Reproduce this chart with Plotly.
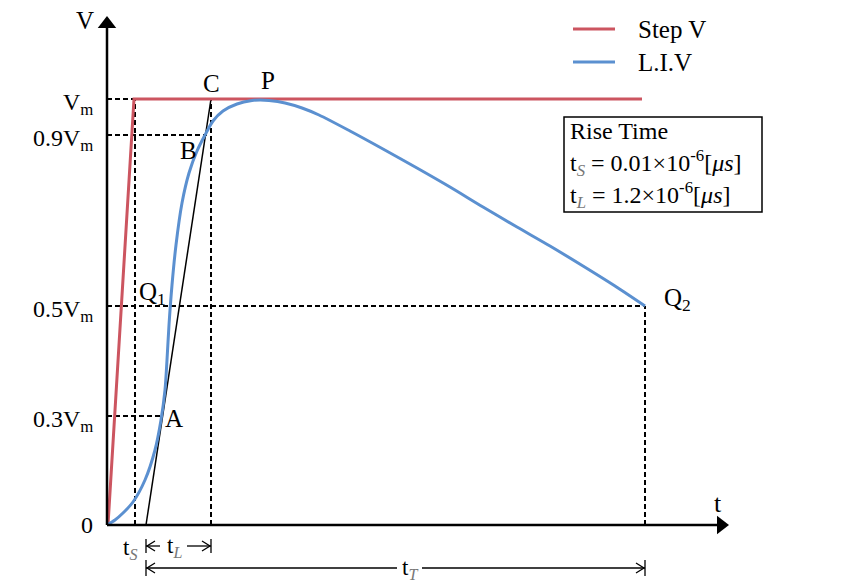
import plotly.graph_objects as go

# ---- schematic data (diagram units: t to the right, v upward) ----
VM = 426          # level of V_m
V09 = 390         # level of 0.9 V_m
V05 = 219         # level of 0.5 V_m
V03 = 109         # level of 0.3 V_m
T_S = 28          # step rise end (t_s)
T_A = 39          # tangent start on t axis
T_C = 104         # point C
T_Q2 = 538        # point Q2
T_END = 535       # end of step line
T_AX = 621        # t axis arrow tip
V_AX = 508        # V axis arrow tip

step_t = [1, T_S - 1, T_END]
step_v = [0, VM, VM]

liv_t = [0, 8, 16, 26, 38, 48, 54, 58, 60, 62, 65, 69, 75, 82, 90, 98, 106,
         116, 130, 145, 153, 162, 178, 195, 212, 243, 276, 310, 343, 376, 410, 443,
         476, 508, 538]
liv_v = [0, 5, 12, 23, 45, 75, 105, 135, 165, 200, 240, 280, 322, 352,
         374, 390, 404, 414, 421, 424.5, 425, 424.5, 422, 417, 410, 394, 376, 357, 338,
         318, 298, 279, 259, 239, 219]

tan_t = [T_A, T_C]
tan_v = [0, VM]

level_vals = [VM, V09, V05, V03, 0]
level_text = ["V<sub>m</sub>", "0.9V<sub>m</sub>", "0.5V<sub>m</sub>", "0.3V<sub>m</sub>", "0"]

RED = "#CC5560"
BLUE = "#5B90D0"
FONT = "Liberation Serif"

fig = go.Figure()

def line(xs, ys, color="black", width=2, dash=None, shape="linear"):
    fig.add_trace(go.Scatter(x=xs, y=ys, mode="lines", showlegend=False,
                             hoverinfo="skip",
                             line=dict(color=color, width=width, dash=dash, shape=shape,
                                       smoothing=0.8 if shape == "spline" else None)))

DASH = "5px,3px"
# dashed guide lines
line([0, T_S], [VM, VM], dash=DASH)
line([0, 100], [V09, V09], dash=DASH)
line([0, T_Q2], [V05, V05], dash=DASH)
line([0, 56], [V03, V03], dash=DASH)
line([T_S, T_S], [0, VM], dash=DASH)
line([T_C, T_C], [0, VM], dash=DASH)
line([T_Q2, T_Q2], [0, V05], dash=DASH)

# tangent line
line(tan_t, tan_v, width=1.5)

# curves
line(step_t, step_v, color=RED, width=3)
line(liv_t, liv_v, color=BLUE, width=3, shape="spline")

# axes
line([0, 0], [0, V_AX - 10], width=2.5)
line([0, T_AX - 10], [0, 0], width=2.5)
fig.add_trace(go.Scatter(x=[0], y=[V_AX - 7], mode="markers", showlegend=False,
                         hoverinfo="skip",
                         marker=dict(symbol="triangle-up", size=16, color="black")))
fig.add_trace(go.Scatter(x=[T_AX - 7], y=[0], mode="markers", showlegend=False,
                         hoverinfo="skip",
                         marker=dict(symbol="triangle-right", size=16, color="black")))

# dimension arrows below the axis
def dim(t0, t1, v, h, gap0, gap1, w=1.3):
    line([t0, t0], [v - h, v + h], width=w)
    line([t1, t1], [v - h, v + h], width=w)
    line([t0, gap0], [v, v], width=w)
    line([gap1, t1], [v, v], width=w)
    line([t0 + 9, t0 + 1, t0 + 9], [v + 5, v, v - 5], width=w)
    line([t1 - 9, t1 - 1, t1 - 9], [v + 5, v, v - 5], width=w)

dim(T_A, T_C, -21, 7, 53, 80)
dim(T_A, T_Q2, -43, 8, 290, 315)

# legend (manual)
line([466, 508], [496, 496], color=RED, width=3)
line([466, 508], [463, 463], color=BLUE, width=3)

fig.add_shape(type="rect", x0=457, x1=655, y0=313, y1=408,
              line=dict(color="black", width=1.5))

ann = []
def txt(x, y, s, size=25, xanchor="center", yanchor="middle"):
    ann.append(dict(x=x, y=y, xref="x", yref="y", text=s, showarrow=False,
                    xanchor=xanchor, yanchor=yanchor,
                    font=dict(family=FONT, size=size, color="black")))

for v, s in zip(level_vals, level_text):
    txt(-12, v - 5 if v else v, s, size=24, xanchor="right")

txt(-22, 505, "V", size=25)
txt(611, 22, "t", size=26)
txt(104, 442, "C")
txt(161, 445, "P")
txt(81, 375, "B")
txt(45, 232, "Q<sub>1</sub>")
txt(67, 107, "A")
txt(555, 226, "Q<sub>2</sub>", xanchor="left")

SUBC = "#777777"
txt(23, -24, "t<sub><i><span style='color:%s'>S</span></i></sub>" % SUBC, size=23)
txt(67, -22, "t<sub><i><span style='color:%s'>L</span></i></sub>" % SUBC, size=23)
txt(303, -44, "t<sub><i><span style='color:%s'>T</span></i></sub>" % SUBC, size=23)

txt(529, 496, "Step V", size=25, xanchor="left")
txt(529, 463, "L.I.V", size=25, xanchor="left")

txt(461, 394, "Rise Time", size=24, xanchor="left")
txt(461, 362, "t<sub><i><span style='color:%s'>S</span></i></sub> = 0.01×10<sup>-6</sup>[<i>μs</i>]" % SUBC,
    size=24, xanchor="left")
txt(461, 330, "t<sub><i><span style='color:%s'>L</span></i></sub> = 1.2×10<sup>-6</sup>[<i>μs</i>]" % SUBC,
    size=24, xanchor="left")

fig.update_layout(
    width=842, height=583,
    margin=dict(l=0, r=0, t=0, b=0),
    paper_bgcolor="white", plot_bgcolor="white",
    xaxis=dict(range=[-107, 735], visible=False, fixedrange=True),
    yaxis=dict(range=[-58, 525], visible=False, fixedrange=True),
    annotations=ann,
    showlegend=False,
)

fig.write_html("out.html")
